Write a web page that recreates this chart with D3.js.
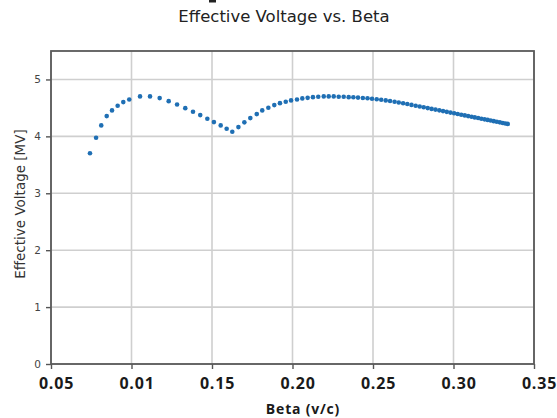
<!DOCTYPE html>
<html>
<head>
<meta charset="utf-8">
<script src="https://cdn.jsdelivr.net/npm/d3@7"></script>
<style>
  body { margin: 0; background: #fff; }
  svg { display: block; }
</style>
</head>
<body>
<div id="chart"></div>
<script>
/* data */
var betaValues = [
  0.0742, 0.0780, 0.0812, 0.0846, 0.0879, 0.0914, 0.0949, 0.0986, 0.1053, 0.1115,
  0.1175, 0.1231, 0.1283, 0.1334, 0.1382, 0.1427, 0.1471, 0.1512, 0.1554, 0.1591,
  0.1626, 0.1664, 0.1701, 0.1738, 0.1778, 0.1812, 0.1850, 0.1887, 0.1922, 0.1958,
  0.1991, 0.2028, 0.2061, 0.2094, 0.2127, 0.2160, 0.2194, 0.2225, 0.2256, 0.2287,
  0.2318, 0.2349, 0.2378, 0.2407, 0.2437, 0.2466, 0.2494, 0.2523, 0.2551, 0.2579,
  0.2606, 0.2634, 0.2660, 0.2687, 0.2713, 0.2739, 0.2765, 0.2790, 0.2815, 0.2840,
  0.2864, 0.2888, 0.2912, 0.2935, 0.2958, 0.2981, 0.3004, 0.3026, 0.3048, 0.3070,
  0.3091, 0.3112, 0.3132, 0.3153, 0.3173, 0.3193, 0.3212, 0.3231, 0.3250, 0.3269,
  0.3288, 0.3306, 0.3322, 0.3337
];
var voltageValues = [
  3.702, 3.975, 4.193, 4.356, 4.456, 4.537, 4.602, 4.649, 4.702, 4.702,
  4.672, 4.619, 4.561, 4.496, 4.432, 4.374, 4.309, 4.251, 4.193, 4.133,
  4.081, 4.163, 4.246, 4.321, 4.391, 4.456, 4.502, 4.549, 4.584, 4.607,
  4.632, 4.649, 4.667, 4.677, 4.689, 4.695, 4.702, 4.702, 4.702, 4.695,
  4.695, 4.689, 4.686, 4.681, 4.675, 4.669, 4.661, 4.652, 4.643, 4.632,
  4.621, 4.609, 4.596, 4.582, 4.568, 4.553, 4.539, 4.525, 4.511, 4.497,
  4.483, 4.470, 4.457, 4.444, 4.431, 4.418, 4.405, 4.393, 4.380, 4.368,
  4.356, 4.345, 4.333, 4.322, 4.310, 4.299, 4.289, 4.278, 4.267, 4.257,
  4.246, 4.236, 4.227, 4.219
];
var xTicks = [0.05, 0.10, 0.15, 0.20, 0.25, 0.30, 0.35];
var xTickLabels = ["0.05", "0.01", "0.15", "0.20", "0.25", "0.30", "0.35"];
var yTicks = [0, 1, 2, 3, 4, 5];

var titleText = "Effective Voltage vs. Beta";
var xLabelText = "Beta (v/c)";
var yLabelText = "Effective Voltage [MV]";

var width = 557, height = 418;
var margin = {left: 51, right: 23, top: 51, bottom: 54};

var svg = d3.select('#chart')
  .append('svg')
  .attr('width', width)
  .attr('height', height);

var x = d3.scaleLinear()
  .domain([0.05, 0.35])
  .range([margin.left, width - margin.right]);
var y = d3.scaleLinear()
  .domain([0, 5.5])
  .range([height - margin.bottom, margin.top]);

// gridlines
svg.append('g').selectAll('line')
  .data(xTicks)
  .enter()
  .append('line')
  .attr('x1', function(d){ return x(d); })
  .attr('x2', function(d){ return x(d); })
  .attr('y1', y(0))
  .attr('y2', y(5.5))
  .attr('stroke', '#cfcfcf')
  .attr('stroke-width', 1.6);
svg.append('g').selectAll('line')
  .data(yTicks)
  .enter()
  .append('line')
  .attr('x1', x(0.05))
  .attr('x2', x(0.35))
  .attr('y1', function(d){ return y(d); })
  .attr('y2', function(d){ return y(d); })
  .attr('stroke', '#cfcfcf')
  .attr('stroke-width', 1.6);

// axes
var xAxis = svg.append('g')
  .attr('transform', 'translate(0,' + y(0) + ')')
  .call(d3.axisBottom(x).tickValues(xTicks).tickSize(5).tickPadding(9)
    .tickFormat(function(d, i){ return xTickLabels[i]; }));
xAxis.select('.domain').remove();
xAxis.selectAll('line').attr('stroke', '#555').attr('stroke-width', 1.4);
xAxis.selectAll('text')
  .attr('dx', 5)
  .style('font-family', '"Open Sans", sans-serif')
  .style('font-weight', 700)
  .style('font-size', '16px')
  .style('letter-spacing', '0.8px')
  .attr('fill', '#1a1a1a');

var yAxis = svg.append('g')
  .attr('transform', 'translate(' + x(0.05) + ',0)')
  .call(d3.axisLeft(y).tickValues(yTicks).tickSize(5).tickPadding(5)
    .tickFormat(d3.format('d')));
yAxis.select('.domain').remove();
yAxis.selectAll('line').attr('stroke', '#555').attr('stroke-width', 1.4);
yAxis.selectAll('text')
  .style('font-family', '"DejaVu Sans", sans-serif')
  .style('font-size', '10.5px')
  .attr('fill', '#444');

// frame
svg.append('rect')
  .attr('x', x(0.05))
  .attr('y', y(5.5))
  .attr('width', x(0.35) - x(0.05))
  .attr('height', y(0) - y(5.5))
  .attr('fill', 'none')
  .attr('stroke', '#5a5a5a')
  .attr('stroke-width', 1.8);

// points
var points = betaValues.map(function(b, i){ return {b: b, v: voltageValues[i]}; });
svg.append('g').selectAll('circle')
  .data(points)
  .enter()
  .append('circle')
  .attr('cx', function(d){ return x(d.b); })
  .attr('cy', function(d){ return y(d.v); })
  .attr('r', 2.3)
  .attr('fill', '#1f6fb4');

// texts
svg.append('text')
  .attr('x', 284)
  .attr('y', 22)
  .attr('text-anchor', 'middle')
  .style('font-family', '"DejaVu Sans", sans-serif')
  .style('font-size', '16.5px')
  .attr('fill', '#222')
  .text(titleText);

svg.append('text')
  .attr('x', 303)
  .attr('y', 414)
  .attr('text-anchor', 'middle')
  .style('font-family', '"Open Sans", sans-serif')
  .style('font-weight', 700)
  .style('font-size', '14px')
  .style('letter-spacing', '0.8px')
  .attr('fill', '#1a1a1a')
  .text(xLabelText);

svg.append('text')
  .attr('transform', 'translate(24.5,204) rotate(-90)')
  .attr('text-anchor', 'middle')
  .style('font-family', '"DejaVu Sans", sans-serif')
  .style('font-size', '13.5px')
  .attr('fill', '#333')
  .text(yLabelText);

// cut-off glyph at the very top edge
svg.append('rect')
  .attr('x', 209)
  .attr('y', 0)
  .attr('width', 7)
  .attr('height', 2.5)
  .attr('fill', '#222');
</script>
</body>
</html>
